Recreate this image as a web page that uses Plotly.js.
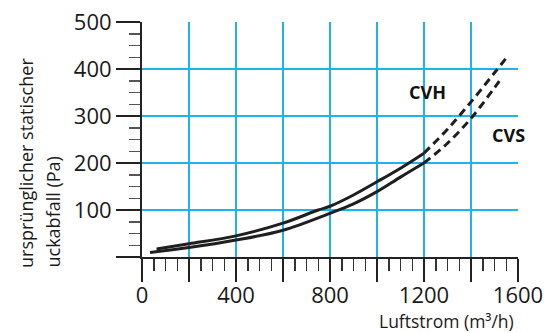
<!DOCTYPE html>
<html>
<head>
<meta charset="utf-8">
<script src="https://cdn.plot.ly/plotly-3.0.1.min.js"></script>
<style>html,body{margin:0;padding:0;background:#fff;}#chart{width:558px;height:333px;}</style>
</head>
<body>
<div id="chart"></div>
<script>
// ---- data ----
const cvhSolidX = [62, 200, 400, 600, 750, 800, 900, 1000, 1100, 1200];
const cvhSolidY = [17, 28, 45, 72, 100, 108, 132, 160, 189, 221];
const cvhDashX  = [1200, 1300, 1400, 1500, 1554];
const cvhDashY  = [221, 272, 330, 392, 426];
const cvsSolidX = [34, 200, 400, 600, 800, 900, 1000, 1100, 1200];
const cvsSolidY = [9.5, 20, 36, 57, 93, 113, 139, 170, 200];
const cvsDashX  = [1200, 1300, 1400, 1500, 1529];
const cvsDashY  = [200, 242, 295, 360, 380];
const seriesNames = ['CVH', 'CVS'];
const xHiddenLabels = ['200', '600', '1000', '1400'];
const yHiddenLabels = ['0'];
const xTitle = 'Luftstrom (m³/h)';
const yTitleLines = ['ursprünglicher statischer', 'uckabfall (Pa)'];

const FONT = 'Open Sans, sans-serif';
const lineColor = '#1f1f1f';
const W = 558, H = 333;
const M = {l: 142, r: 40, t: 22, b: 76};
const pw = W - M.l - M.r, ph = H - M.t - M.b;
const px2x = p => (p - M.l) / pw;
const py2y = p => (H - M.b - p) / ph;

function tr(x, y, dashed) {
  return {x: x, y: y, type: 'scatter', mode: 'lines', hoverinfo: 'skip', showlegend: false,
    line: {color: lineColor, width: 3, shape: 'spline', smoothing: 1, dash: dashed ? '8px,5px' : 'solid'}};
}
const data = [
  tr(cvhSolidX, cvhSolidY, false), tr(cvhDashX, cvhDashY, true),
  tr(cvsSolidX, cvsSolidY, false), tr(cvsDashX, cvsDashY, true)
];
const alias = arr => { const o = {}; arr.forEach(k => { o[k] = ' '; }); return o; };

const grid = '#1fb3ec';
const layout = {
  width: W, height: H, margin: M,
  paper_bgcolor: '#fff', plot_bgcolor: '#fff',
  showlegend: false,
  font: {family: FONT, color: '#1a1a1a'},
  xaxis: {
    range: [0, 1600], tickmode: 'linear', tick0: 0, dtick: 200, labelalias: alias(xHiddenLabels),
    showgrid: true, gridcolor: grid, gridwidth: 2, zeroline: false,
    showline: true, linecolor: '#222', linewidth: 2,
    ticks: 'outside', ticklen: 23, tickwidth: 2, tickcolor: '#222',
    tickfont: {size: 22, family: FONT, color: '#1a1a1a'}, ticklabelstandoff: -5,
    minor: {dtick: 50, tick0: 0, ticks: 'outside', ticklen: 12, tickwidth: 1.5, tickcolor: '#333', showgrid: false},
    fixedrange: true
  },
  yaxis: {
    range: [0, 500], tickmode: 'linear', tick0: 0, dtick: 100, labelalias: alias(yHiddenLabels),
    showgrid: true, gridcolor: grid, gridwidth: 2, zeroline: false,
    showline: true, linecolor: '#222', linewidth: 2,
    ticks: 'outside', ticklen: 24, tickwidth: 2, tickcolor: '#222',
    tickfont: {size: 22, family: FONT, color: '#1a1a1a'}, ticklabelstandoff: 0,
    minor: {dtick: 25, tick0: 0, ticks: 'outside', ticklen: 11, tickwidth: 1.5, tickcolor: '#555', showgrid: false},
    fixedrange: true
  },
  annotations: [
    {text: '<b>' + seriesNames[0] + '</b>', x: 1213, y: 351, xref: 'x', yref: 'y', showarrow: false,
     font: {size: 18, family: FONT, color: '#111'}},
    {text: '<b>' + seriesNames[1] + '</b>', x: 1559, y: 260, xref: 'x', yref: 'y', showarrow: false,
     font: {size: 18, family: FONT, color: '#111'}},
    {text: xTitle, xref: 'paper', yref: 'paper', x: px2x(516), y: py2y(321), xanchor: 'right', yanchor: 'middle',
     showarrow: false, font: {size: 17.5, family: FONT, color: '#1a1a1a'}},
    {text: yTitleLines[0], xref: 'paper', yref: 'paper', x: px2x(26), y: py2y(270), xanchor: 'center', yanchor: 'bottom',
     textangle: -90, showarrow: false, font: {size: 18, family: FONT, color: '#1a1a1a'}},
    {text: yTitleLines[1], xref: 'paper', yref: 'paper', x: px2x(52), y: py2y(270), xanchor: 'center', yanchor: 'bottom',
     textangle: -90, showarrow: false, font: {size: 18, family: FONT, color: '#1a1a1a'}}
  ]
};
Plotly.newPlot('chart', data, layout, {displayModeBar: false, staticPlot: true});
</script>
</body>
</html>
